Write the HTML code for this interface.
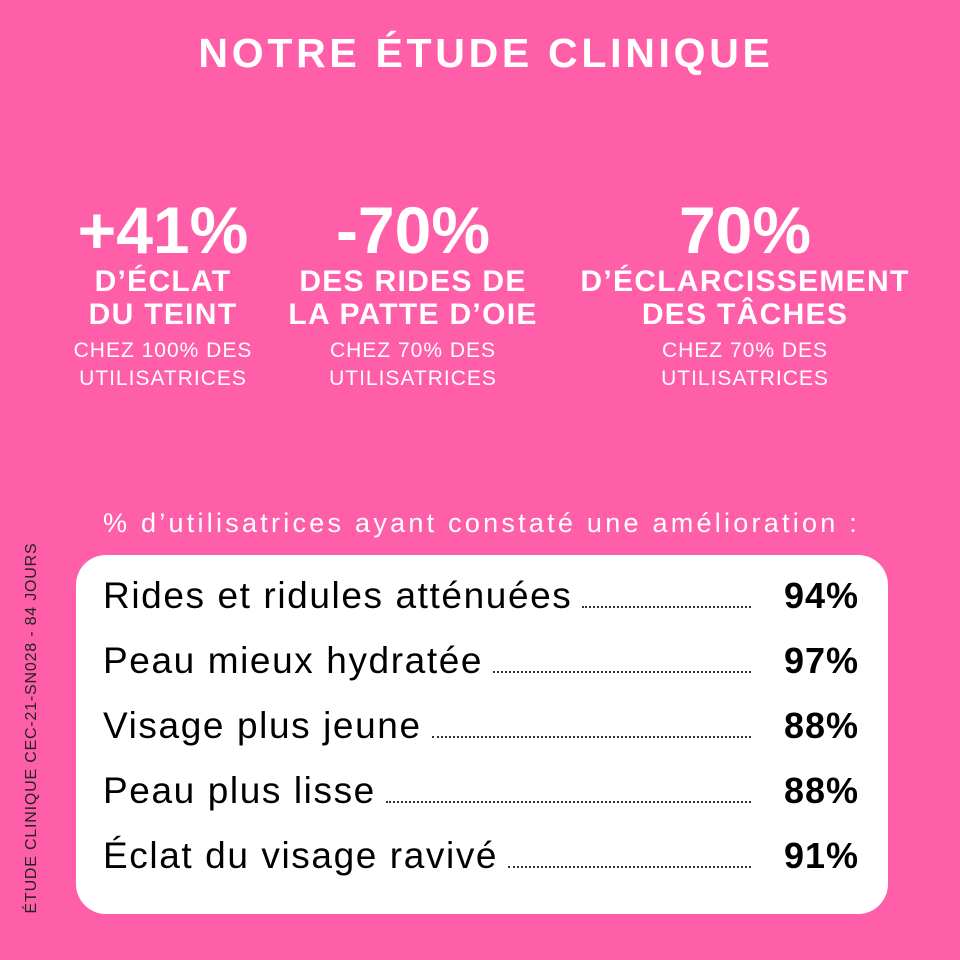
<!DOCTYPE html>
<html><head><meta charset="utf-8"><style>
*{margin:0;padding:0;box-sizing:border-box}
body{width:960px;height:960px;background:#ff5fa8;position:relative;overflow:hidden;font-family:"Liberation Sans",sans-serif;color:#fff}
.a{position:absolute;white-space:nowrap}
.title{left:6px;width:960px;top:30px;text-align:center;font-weight:bold;font-size:41px;letter-spacing:3.7px}
.col{position:absolute;text-align:center;top:195px}
.big{font-weight:bold;font-size:66px;line-height:70px;letter-spacing:0px}
.mid{font-weight:bold;font-size:30px;line-height:33px;letter-spacing:1.3px}
.sm{font-size:21px;line-height:28px;margin-top:6px;letter-spacing:1px}
.sub{left:103px;top:508px;font-size:27px;letter-spacing:3.25px}
.box{position:absolute;left:76px;top:555px;width:812px;height:359px;background:#fff;border-radius:30px}
.row{position:absolute;left:103px;width:756px;display:flex;align-items:baseline;color:#000;height:44px}
.row .t{font-size:37px;letter-spacing:1.6px}
.row .d{flex:1;border-bottom:2px dotted #333;margin:0 22px 0 10px;height:1px}
.row .p{font-weight:bold;font-size:36px;width:86px;text-align:right;letter-spacing:1px}
.vert{position:absolute;left:32px;top:728px;transform:translate(-50%,-50%) rotate(-90deg);color:#222;font-size:16px;letter-spacing:0.8px;white-space:nowrap}
</style></head><body>
<div class="a title">NOTRE ÉTUDE CLINIQUE</div>
<div class="col" style="left:63px;width:200px"><div class="big">+41%</div><div class="mid">D’ÉCLAT<br>DU TEINT</div><div class="sm">CHEZ 100% DES<br>UTILISATRICES</div></div>
<div class="col" style="left:263px;width:300px"><div class="big">-70%</div><div class="mid">DES RIDES DE<br>LA PATTE D’OIE</div><div class="sm">CHEZ 70% DES<br>UTILISATRICES</div></div>
<div class="col" style="left:565px;width:360px"><div class="big">70%</div><div class="mid">D’ÉCLARCISSEMENT<br>DES TÂCHES</div><div class="sm">CHEZ 70% DES<br>UTILISATRICES</div></div>
<div class="a sub">% d’utilisatrices ayant constaté une amélioration :</div>
<div class="box"></div>
<div class="row" style="top:575px"><span class="t">Rides et ridules atténuées</span><span class="d"></span><span class="p">94%</span></div>
<div class="row" style="top:640px"><span class="t">Peau mieux hydratée</span><span class="d"></span><span class="p">97%</span></div>
<div class="row" style="top:705px"><span class="t">Visage plus jeune</span><span class="d"></span><span class="p">88%</span></div>
<div class="row" style="top:770px"><span class="t">Peau plus lisse</span><span class="d"></span><span class="p">88%</span></div>
<div class="row" style="top:835px"><span class="t">Éclat du visage ravivé</span><span class="d"></span><span class="p">91%</span></div>
<div class="vert">ÉTUDE CLINIQUE CEC-21-SN028 - 84 JOURS</div>
</body></html>
